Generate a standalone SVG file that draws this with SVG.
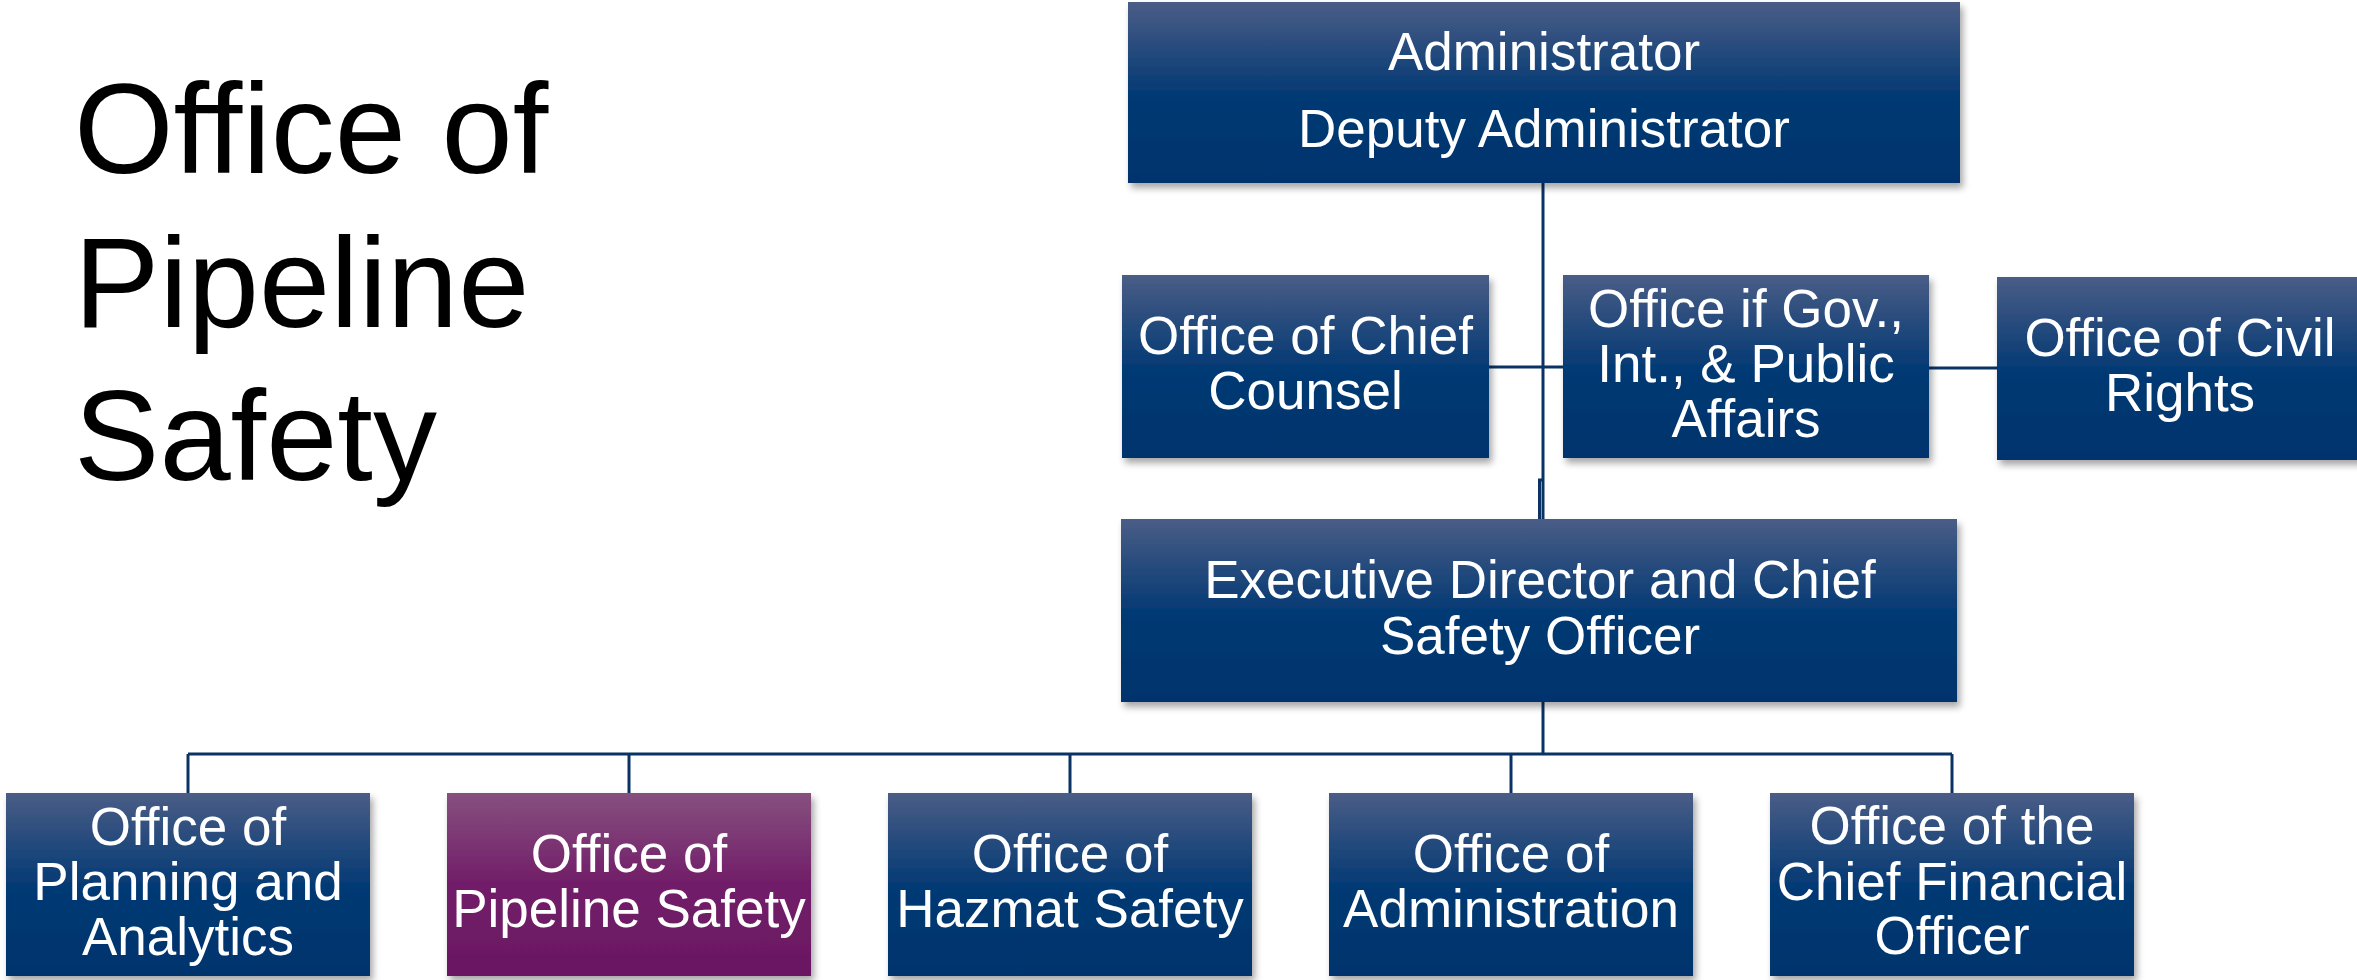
<svg xmlns="http://www.w3.org/2000/svg" width="2357" height="980" viewBox="0 0 2357 980">
  <defs>
    <linearGradient id="blueFill" x1="0" y1="0" x2="0" y2="1">
      <stop offset="0" stop-color="#4a5d86"/>
      <stop offset="0.5" stop-color="#053a74"/>
      <stop offset="1" stop-color="#01336d"/>
    </linearGradient>
    <linearGradient id="purpleFill" x1="0" y1="0" x2="0" y2="1">
      <stop offset="0" stop-color="#87507f"/>
      <stop offset="0.5" stop-color="#711d68"/>
      <stop offset="1" stop-color="#6a1862"/>
    </linearGradient>
    <filter id="shadow" x="-5%" y="-5%" width="115%" height="125%">
      <feDropShadow dx="3" dy="5" stdDeviation="3.5" flood-color="#000" flood-opacity="0.35"/>
    </filter>
  </defs>
  <style>
    .box { fill: url(#blueFill); filter: url(#shadow); }
    .box.focus { fill: url(#purpleFill); }
    .label { font-family: "Liberation Sans", Arial, sans-serif; font-size: 53px; fill: #ffffff; text-anchor: middle; }
    .title { font-family: "Liberation Sans", Arial, sans-serif; font-size: 128px; fill: #000000; }
    .link { fill: none; stroke: #0b3264; stroke-width: 3; }
  </style>

  <rect width="2357" height="980" fill="#ffffff"/>

  <!-- heading -->
  <g id="title">
    <text class="title" x="74" y="173">Office of</text>
    <text class="title" x="74" y="327">Pipeline</text>
    <text class="title" x="74" y="480">Safety</text>
  </g>

  <!-- reporting lines -->
  <g id="connectors">
    <path class="link" d="M1543,183 V519"/>
    <path class="link" d="M1543,480 H1539.5 V519"/>
    <path class="link" d="M1489,367 H1563"/>
    <path class="link" d="M1929,368 H1997"/>
    <path class="link" d="M1543,702 V754"/>
    <path class="link" d="M188,754 H1952"/>
    <path class="link" d="M188,754 V793"/>
    <path class="link" d="M629,754 V793"/>
    <path class="link" d="M1070,754 V793"/>
    <path class="link" d="M1511,754 V793"/>
    <path class="link" d="M1952,754 V793"/>
  </g>

  <g id="administrator">
    <rect class="box" x="1128" y="2" width="832" height="181"/>
    <text class="label" x="1544" y="70">Administrator</text>
    <text class="label" x="1544" y="147">Deputy Administrator</text>
  </g>

  <g id="chief-counsel">
    <rect class="box" x="1122" y="275" width="367" height="183"/>
    <text class="label" x="1305.5" y="354">Office of Chief</text>
    <text class="label" x="1305.5" y="409">Counsel</text>
  </g>

  <g id="public-affairs">
    <rect class="box" x="1563" y="275" width="366" height="183"/>
    <text class="label" x="1746" y="327">Office if Gov.,</text>
    <text class="label" x="1746" y="382">Int., &amp; Public</text>
    <text class="label" x="1746" y="437">Affairs</text>
  </g>

  <g id="civil-rights">
    <rect class="box" x="1997" y="277" width="366" height="183"/>
    <text class="label" x="2180" y="356">Office of Civil</text>
    <text class="label" x="2180" y="411">Rights</text>
  </g>

  <g id="executive-director">
    <rect class="box" x="1121" y="519" width="836" height="183"/>
    <text class="label" x="1540" y="598">Executive Director and Chief</text>
    <text class="label" x="1540" y="654">Safety Officer</text>
  </g>

  <g id="planning-analytics">
    <rect class="box" x="6" y="793" width="364" height="183"/>
    <text class="label" x="188" y="845">Office of</text>
    <text class="label" x="188" y="900">Planning and</text>
    <text class="label" x="188" y="955">Analytics</text>
  </g>

  <g id="pipeline-safety">
    <rect class="box focus" x="447" y="793" width="364" height="183"/>
    <text class="label" x="629" y="872">Office of</text>
    <text class="label" x="629" y="927">Pipeline Safety</text>
  </g>

  <g id="hazmat-safety">
    <rect class="box" x="888" y="793" width="364" height="183"/>
    <text class="label" x="1070" y="872">Office of</text>
    <text class="label" x="1070" y="927">Hazmat Safety</text>
  </g>

  <g id="administration">
    <rect class="box" x="1329" y="793" width="364" height="183"/>
    <text class="label" x="1511" y="872">Office of</text>
    <text class="label" x="1511" y="927">Administration</text>
  </g>

  <g id="chief-financial-officer">
    <rect class="box" x="1770" y="793" width="364" height="183"/>
    <text class="label" x="1952" y="844">Office of the</text>
    <text class="label" x="1952" y="900">Chief Financial</text>
    <text class="label" x="1952" y="954">Officer</text>
  </g>
</svg>
